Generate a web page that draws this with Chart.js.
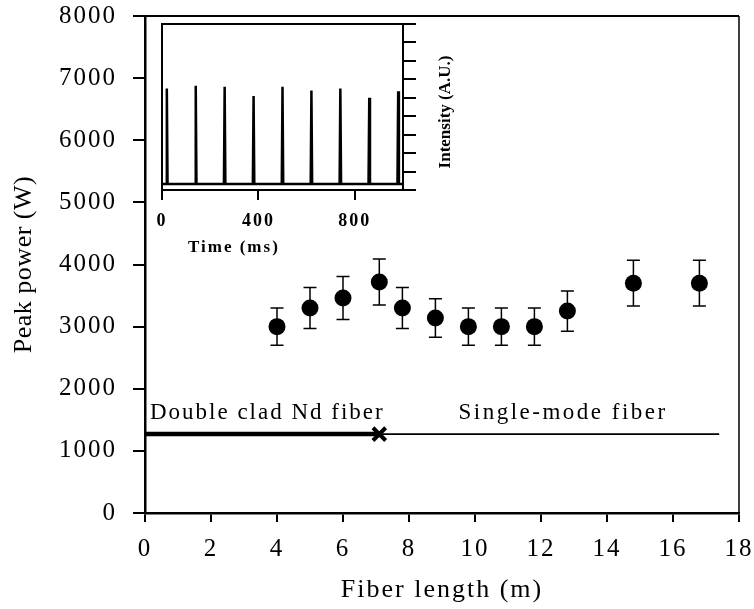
<!DOCTYPE html>
<html>
<head>
<meta charset="utf-8">
<script src="https://cdn.jsdelivr.net/npm/chart.js@4.4.1/dist/chart.umd.min.js"></script>
<style>
  html, body { margin: 0; padding: 0; background: #fff; }
  #wrap { position: relative; width: 754px; height: 609px; }
  #main { position: absolute; left: 0; top: 0; }
  #inset { position: absolute; left: 140px; top: 14px; }
</style>
</head>
<body>
<div id="wrap">
  <canvas id="main" width="754" height="609"></canvas>
  <canvas id="inset" width="320" height="250"></canvas>
</div>
<script>
// main plot: peak power vs fiber length
const fiberLength = [4, 5, 6, 7.1, 7.8, 8.8, 9.8, 10.8, 11.8, 12.8, 14.8, 16.8];
const peakPower = [3000, 3300, 3460, 3720, 3300, 3140, 3000, 3000, 3000, 3250, 3700, 3700];
const powerError = [300, 330, 345, 370, 330, 310, 300, 300, 300, 325, 370, 370];

// fiber sketch (thick = double clad, thin = single-mode)
const doubleCladX = [0, 7.1];
const singleModeX = [7.1, 17.4];
const fiberLineLevel = 1270;

// inset: pulse train
const pulseTimes = [20, 140, 260, 380, 500, 620, 740, 860, 980];
const pulseHeights = [5.5, 5.65, 5.6, 5.1, 5.6, 5.4, 5.5, 5.0, 5.35];
const pulseBase = 0.33;

const serif = 'Liberation Serif';

// error bars drawn under the dots
const errorBars = {
  id: 'errorBars',
  beforeDatasetsDraw(chart) {
    const { ctx, scales: { x, y } } = chart;
    ctx.save();
    ctx.strokeStyle = '#000';
    ctx.lineWidth = 1.5;
    fiberLength.forEach((fx, i) => {
      const px = x.getPixelForValue(fx);
      const top = y.getPixelForValue(peakPower[i] + powerError[i]);
      const bot = y.getPixelForValue(peakPower[i] - powerError[i]);
      ctx.beginPath();
      ctx.moveTo(px, top); ctx.lineTo(px, bot);
      ctx.moveTo(px - 6.5, top); ctx.lineTo(px + 6.5, top);
      ctx.moveTo(px - 6.5, bot); ctx.lineTo(px + 6.5, bot);
      ctx.stroke();
    });
    ctx.restore();
  }
};

// box frame, y title + fiber labels
const mainFrame = {
  id: 'mainFrame',
  beforeLayout(chart) { chart.ctx.letterSpacing = '2px'; },
  beforeDraw(chart) { chart.ctx.letterSpacing = '2px'; },
  afterDraw(chart) {
    const { ctx, chartArea: a, scales: { x, y } } = chart;
    ctx.save();
    ctx.strokeStyle = '#000';
    ctx.lineWidth = 2;
    ctx.beginPath(); ctx.moveTo(a.left, a.top); ctx.lineTo(a.right, a.top); ctx.stroke();
    ctx.lineWidth = 1.5;
    ctx.beginPath(); ctx.moveTo(a.right, a.top); ctx.lineTo(a.right, a.bottom); ctx.stroke();

    ctx.fillStyle = '#000';
    ctx.font = '23px "' + serif + '"';
    ctx.textAlign = 'left';
    ctx.textBaseline = 'alphabetic';
    const ly = y.getPixelForValue(fiberLineLevel) - 15;
    ctx.letterSpacing = '2px';
    ctx.fillText('Double clad Nd fiber', x.getPixelForValue(0.15), ly);
    ctx.letterSpacing = '2.5px';
    ctx.fillText('Single-mode fiber', x.getPixelForValue(9.5), ly);

    // y axis title
    ctx.font = '26px "' + serif + '"';
    ctx.letterSpacing = '0.5px';
    ctx.textAlign = 'center';
    ctx.textBaseline = 'middle';
    ctx.translate(24, (a.top + a.bottom) / 2);
    ctx.rotate(-Math.PI / 2);
    ctx.fillText('Peak power (W)', 0, 0);
    ctx.restore();
  }
};

new Chart(document.getElementById('main'), {
  type: 'scatter',
  plugins: [errorBars, mainFrame],
  data: {
    datasets: [
      {
        data: fiberLength.map((v, i) => ({ x: v, y: peakPower[i] })),
        pointRadius: 8.5,
        backgroundColor: '#000',
        borderColor: '#000',
        borderWidth: 0
      },
      {
        data: doubleCladX.map(v => ({ x: v, y: fiberLineLevel })),
        showLine: true,
        borderColor: '#000',
        borderWidth: 4.5,
        pointRadius: 0
      },
      {
        data: singleModeX.map(v => ({ x: v, y: fiberLineLevel })),
        showLine: true,
        borderColor: '#000',
        borderWidth: 1.8,
        pointRadius: 0
      },
      {
        data: [{ x: doubleCladX[1], y: fiberLineLevel }],
        pointStyle: 'crossRot',
        pointRadius: 9,
        borderColor: '#000',
        borderWidth: 4
      }
    ]
  },
  options: {
    responsive: false,
    animation: false,
    layout: { padding: { top: 16, right: 15, bottom: 0, left: 0 } },
    plugins: { legend: { display: false }, tooltip: { enabled: false } },
    scales: {
      x: {
        type: 'linear',
        min: 0,
        max: 18,
        afterFit(s) { s.height = 96; s.paddingLeft = 0; s.paddingRight = 0; },
        ticks: {
          stepSize: 2, autoSkip: false, maxRotation: 0, padding: 12,
          color: '#000', font: { family: serif, size: 25 },
          callback: v => String(v)
        },
        grid: { drawOnChartArea: false, drawTicks: true, tickLength: 9, color: '#000', lineWidth: 2 },
        border: { display: true, color: '#000', width: 2.5 },
        title: {
          display: true, text: 'Fiber length (m)', color: '#000',
          font: { family: serif, size: 26 }, padding: { top: 0, bottom: 3 }
        }
      },
      y: {
        min: 0,
        max: 8000,
        afterFit(s) { s.width = 145; s.paddingTop = 0; s.paddingBottom = 0; },
        ticks: {
          stepSize: 1000, autoSkip: false, padding: 16,
          color: '#000', font: { family: serif, size: 25 },
          callback: v => String(v)
        },
        grid: { drawOnChartArea: false, drawTicks: true, tickLength: 12, color: '#000', lineWidth: 2 },
        border: { display: true, color: '#000', width: 2.5 }
      }
    }
  }
});

// inset trace built from the pulse lists
const traceData = [{ x: 0, y: pulseBase }];
pulseTimes.forEach((t, i) => {
  traceData.push({ x: t - 3, y: pulseBase }, { x: t, y: pulseHeights[i] }, { x: t + 3, y: pulseBase });
});
traceData.push({ x: 1000, y: pulseBase });

const insetFrame = {
  id: 'insetFrame',
  beforeLayout(chart) { chart.ctx.letterSpacing = '2px'; },
  beforeDraw(chart) { chart.ctx.letterSpacing = '2px'; },
  afterDraw(chart) {
    const { ctx, chartArea: a } = chart;
    ctx.save();
    ctx.strokeStyle = '#000';
    ctx.lineWidth = 2;
    ctx.beginPath();
    ctx.moveTo(a.left, a.bottom + 10);
    ctx.lineTo(a.left, a.top);
    ctx.lineTo(a.right + 13, a.top);
    ctx.stroke();

    ctx.fillStyle = '#000';
    ctx.font = 'bold 17px "' + serif + '"';
    ctx.textBaseline = 'middle';
    ctx.textAlign = 'left';
    ctx.letterSpacing = '2px';
    ctx.fillText('Time (ms)', a.left + 26, a.bottom + 58);

    ctx.translate(a.right + 43, (a.top + a.bottom) / 2 + 5);
    ctx.rotate(-Math.PI / 2);
    ctx.textAlign = 'center';
    ctx.letterSpacing = '0px';
    ctx.fillText('Intensity (A.U.)', 0, 0);
    ctx.restore();
  }
};

new Chart(document.getElementById('inset'), {
  type: 'scatter',
  plugins: [insetFrame],
  data: {
    datasets: [{
      data: traceData,
      showLine: true,
      borderColor: '#000',
      borderWidth: 2.5,
      pointRadius: 0,
      tension: 0
    }]
  },
  options: {
    responsive: false,
    animation: false,
    layout: { padding: { top: 10, right: 0, bottom: 0, left: 22 } },
    plugins: { legend: { display: false }, tooltip: { enabled: false } },
    scales: {
      x: {
        type: 'linear',
        min: 0,
        max: 1000,
        afterFit(s) { s.height = 74; s.paddingLeft = 0; s.paddingRight = 0; },
        ticks: {
          stepSize: 400, includeBounds: false, autoSkip: false, maxRotation: 0, padding: 11,
          color: '#000', font: { family: serif, size: 18, weight: 'bold' }
        },
        grid: { drawOnChartArea: false, drawTicks: true, tickLength: 10, color: '#000', lineWidth: 2 },
        border: { display: true, color: '#000', width: 2 }
      },
      y: {
        position: 'right',
        min: 0,
        max: 9,
        afterFit(s) { s.width = 57; s.paddingTop = 0; s.paddingBottom = 0; },
        ticks: { stepSize: 1, callback: () => '', padding: 0 },
        grid: { drawOnChartArea: false, drawTicks: true, tickLength: 13, color: '#000', lineWidth: 2 },
        border: { display: true, color: '#000', width: 2 }
      }
    }
  }
});
</script>
</body>
</html>
